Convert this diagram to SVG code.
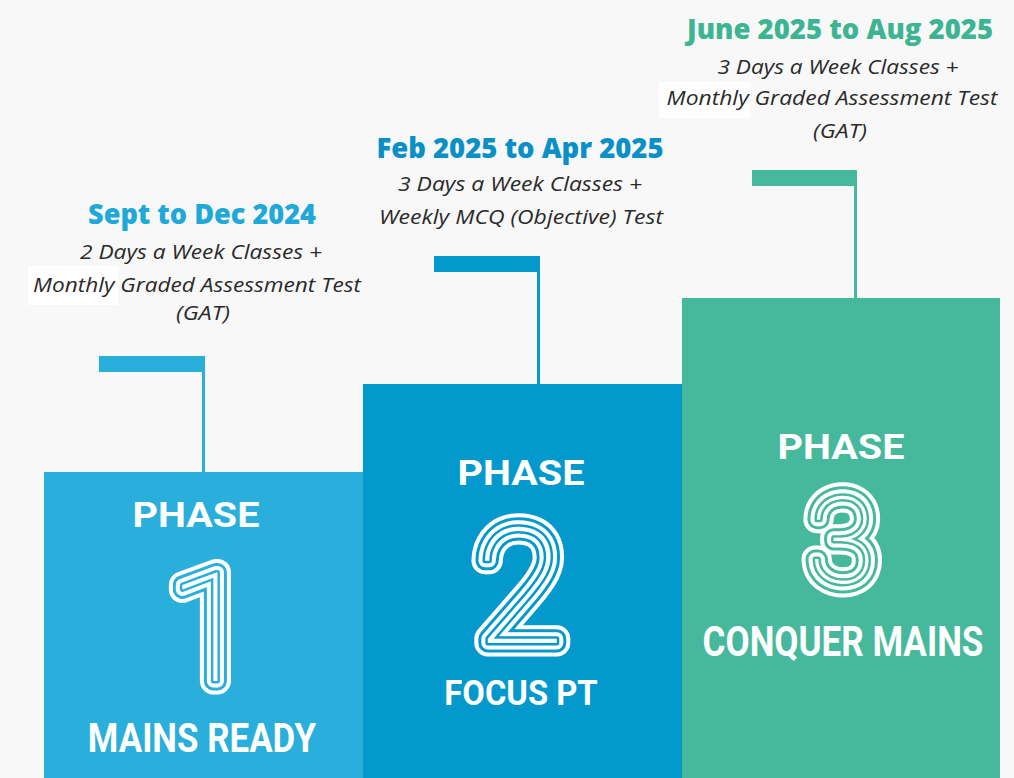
<svg xmlns="http://www.w3.org/2000/svg" xmlns:xlink="http://www.w3.org/1999/xlink" width="1014" height="778" viewBox="0 0 1014 778">
<style>
.title{font-family:"Open Sans",Lato,"Liberation Sans",sans-serif;font-weight:800;font-size:29px;text-anchor:middle}
.body{font-family:"Open Sans",Lato,"Liberation Sans",sans-serif;font-style:italic;font-weight:400;font-size:20.5px;fill:#2a2a2a;text-anchor:middle}
.lbl{font-family:Roboto,"Liberation Sans",sans-serif;font-weight:700;fill:#ffffff;text-anchor:middle}
.num{font-family:Roboto,"DejaVu Sans",sans-serif;font-weight:100;text-anchor:middle}
.a{fill:none;stroke:#ffffff;stroke-width:27;stroke-linejoin:round}
.b{fill:none;stroke-width:19;stroke-linejoin:round}
.c{fill:none;stroke:#ffffff;stroke-width:13;stroke-linejoin:round}
.d{fill:none;stroke-width:5;stroke-linejoin:round}
.bar1{fill:#2aaedb}.bar2{fill:#0399cc}.bar3{fill:#46b99d}
</style>
<rect width="1014" height="778" fill="#f8f8f8"/>
<rect x="28" y="266" width="90" height="39" fill="#ffffff"/>
<rect x="659" y="82" width="91" height="36" fill="#ffffff"/>

<g id="connectors">
  <rect class="bar1" x="99" y="356" width="106" height="16"/>
  <rect class="bar1" x="202" y="356" width="3" height="116"/>
  <rect class="bar2" x="434" y="256" width="106" height="16"/>
  <rect class="bar2" x="537" y="256" width="3" height="128"/>
  <rect class="bar3" x="752" y="170" width="105" height="16"/>
  <rect class="bar3" x="854" y="170" width="3" height="128"/>
</g>

<g id="phase1">
  <rect x="44" y="472" width="319" height="306" fill="#2aaedb"/>
  <text class="title" x="202" y="224" fill="#20a9d8" textLength="228" lengthAdjust="spacingAndGlyphs">Sept to Dec 2024</text>
  <text class="body" x="201" y="259" textLength="242" lengthAdjust="spacingAndGlyphs">2 Days a Week Classes +</text>
  <text class="body" x="197" y="292" textLength="328" lengthAdjust="spacingAndGlyphs">Monthly Graded Assessment Test</text>
  <text class="body" x="203" y="320" textLength="54" lengthAdjust="spacingAndGlyphs">(GAT)</text>
  <text class="lbl" transform="translate(196 527) scale(1.13 1)" font-size="35">PHASE</text>
  <use href="#num1" class="a"/>
  <use href="#num1" class="b" stroke="#2aaedb"/>
  <use href="#num1" class="c"/>
  <use href="#num1" class="d" stroke="#2aaedb"/>
  <g fill="#ffffff"><text id="num1" class="num" x="210" y="681" font-size="152">1</text></g>
  <text class="lbl" transform="translate(202 752) scale(0.873 1)" font-size="40">MAINS READY</text>
</g>

<g id="phase2">
  <rect x="363" y="384" width="319" height="394" fill="#0399cc"/>
  <text class="title" x="520" y="158" fill="#0a90c6" textLength="287" lengthAdjust="spacingAndGlyphs">Feb 2025 to Apr 2025</text>
  <text class="body" x="520" y="191" textLength="244" lengthAdjust="spacingAndGlyphs">3 Days a Week Classes +</text>
  <text class="body" x="521" y="224" textLength="284" lengthAdjust="spacingAndGlyphs">Weekly MCQ (Objective) Test</text>
  <text class="lbl" transform="translate(521 485) scale(1.13 1)" font-size="35">PHASE</text>
  <use href="#num2" class="a"/>
  <use href="#num2" class="b" stroke="#0399cc"/>
  <use href="#num2" class="c"/>
  <use href="#num2" class="d" stroke="#0399cc"/>
  <g fill="#ffffff"><text id="num2" class="num" x="520" y="643" font-size="162">2</text></g>
  <text class="lbl" transform="translate(521 705) scale(0.91 1)" font-size="36">FOCUS PT</text>
</g>

<g id="phase3">
  <rect x="682" y="298" width="318" height="480" fill="#46b99d"/>
  <text class="title" x="840" y="39" fill="#3db593" textLength="306" lengthAdjust="spacingAndGlyphs">June 2025 to Aug 2025</text>
  <text class="body" x="838" y="74" textLength="241" lengthAdjust="spacingAndGlyphs">3 Days a Week Classes +</text>
  <text class="body" x="832" y="105" textLength="331" lengthAdjust="spacingAndGlyphs">Monthly Graded Assessment Test</text>
  <text class="body" x="840" y="138" textLength="54" lengthAdjust="spacingAndGlyphs">(GAT)</text>
  <text class="lbl" transform="translate(841 459) scale(1.13 1)" font-size="35">PHASE</text>
  <use href="#num3" class="a"/>
  <use href="#num3" class="b" stroke="#46b99d"/>
  <use href="#num3" class="c"/>
  <use href="#num3" class="d" stroke="#46b99d"/>
  <g fill="#ffffff"><text id="num3" class="num" x="842" y="583" font-size="121">3</text></g>
  <text class="lbl" transform="translate(843 656) scale(0.834 1)" font-size="42">CONQUER MAINS</text>
</g>
</svg>
